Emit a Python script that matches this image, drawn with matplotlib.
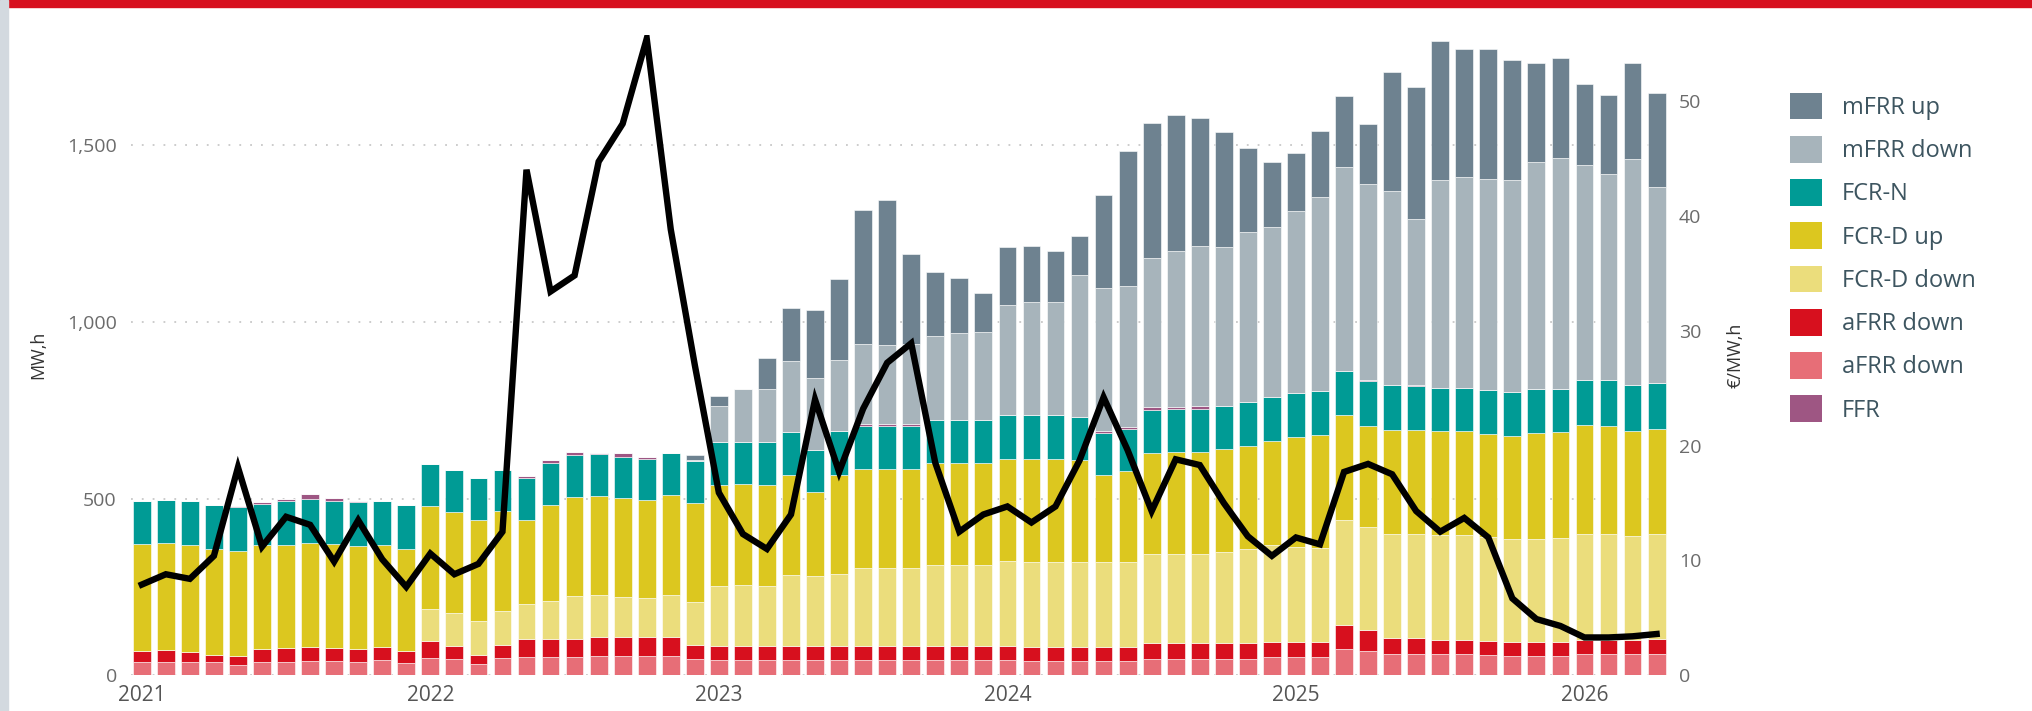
import matplotlib
matplotlib.use("Agg")
import matplotlib.pyplot as plt
from matplotlib.patches import Patch, Rectangle
from matplotlib.ticker import FuncFormatter
import numpy as np

# monthly volumes (MW,h), Jan 2021 .. Apr 2026, stacked bottom -> top
afrr_down_light = [39, 39, 39, 39, 28, 39, 39, 41, 41, 38, 44, 35,
                   49, 46, 31, 49, 53, 53, 53, 55, 55, 55, 55, 46,
                   44, 44, 44, 44, 44, 44, 44, 44, 44, 44, 44, 44,
                   44, 41, 41, 41, 41, 41, 47, 47, 47, 47, 47, 51,
                   51, 51, 75, 70, 60, 60, 60, 60, 58, 56, 56, 56,
                   60, 60, 60, 60]
afrr_down = [31, 33, 28, 18, 26, 35, 38, 40, 36, 37, 36, 34,
             48, 36, 27, 37, 51, 51, 51, 53, 53, 53, 53, 41,
             38, 38, 38, 38, 38, 38, 38, 38, 38, 38, 38, 38,
             38, 39, 39, 39, 39, 39, 44, 44, 44, 44, 44, 43,
             43, 43, 67, 57, 46, 46, 39, 39, 38, 37, 37, 37,
             39, 39, 39, 42]
fcrd_down = [0, 0, 0, 0, 0, 0, 0, 0, 0, 0, 0, 0,
             90, 94, 96, 95, 97, 105, 121, 119, 114, 110, 119, 121,
             172, 174, 172, 202, 200, 204, 221, 221, 221, 231, 231, 231,
             242, 242, 242, 242, 242, 242, 252, 252, 252, 258, 266, 274,
             268, 265, 298, 293, 294, 294, 299, 299, 295, 292, 292, 295,
             301, 301, 296, 298]
fcrd_up = [302, 301, 301, 300, 298, 294, 291, 292, 295, 291, 288, 288,
           293, 285, 285, 284, 238, 274, 280, 280, 280, 279, 282, 279,
           283, 284, 283, 282, 236, 282, 282, 282, 282, 288, 288, 288,
           289, 291, 291, 287, 244, 255, 286, 289, 289, 292, 293, 295,
           313, 322, 296, 284, 295, 295, 292, 292, 292, 292, 301, 299,
           308, 306, 297, 298]
fcrn = [122, 124, 124, 125, 123, 118, 125, 126, 122, 123, 124, 124,
        119, 119, 119, 117, 119, 119, 119, 119, 116, 116, 119, 119,
        122, 119, 122, 122, 119, 122, 119, 119, 119, 120, 120, 120,
        122, 122, 122, 121, 119, 120, 121, 122, 122, 121, 123, 123,
        124, 124, 126, 128, 125, 123, 124, 124, 125, 123, 124, 124,
        127, 129, 128, 128]
ffr = [0, 0, 0, 0, 4, 4, 6, 14, 7, 5, 0, 0,
       0, 0, 0, 0, 6, 6, 7, 2, 12, 4, 0, 0,
       0, 0, 0, 0, 0, 2, 6, 6, 8, 0, 0, 0,
       0, 0, 0, 0, 6, 5, 8, 4, 7, 0, 0, 0,
       0, 0, 0, 2, 2, 4, 0, 0, 0, 0, 0, 0,
       0, 0, 0, 0]
mfrr_down = [0, 0, 0, 0, 0, 0, 0, 0, 0, 0, 0, 0,
             0, 0, 0, 0, 0, 0, 0, 0, 0, 0, 0, 3,
             104, 152, 150, 202, 203, 201, 226, 225, 224, 239, 247, 250,
             311, 320, 320, 401, 405, 400, 422, 441, 454, 449, 481, 482,
             515, 548, 577, 556, 547, 468, 587, 594, 596, 602, 641, 652,
             607, 582, 640, 556]
mfrr_up = [0, 0, 0, 0, 0, 0, 0, 0, 0, 0, 0, 0,
           0, 0, 0, 0, 0, 0, 0, 0, 0, 0, 0, 15,
           27, 0, 88, 150, 192, 228, 381, 409, 257, 180, 156, 111,
           166, 158, 144, 111, 263, 380, 382, 387, 361, 326, 236, 183,
           163, 187, 199, 168, 337, 374, 394, 362, 367, 338, 282, 283,
           229, 223, 273, 264]

# average price (€/MW,h)
price = [7.9, 8.8, 8.4, 10.4, 18.1, 11.2, 13.8, 13.1, 9.9, 13.5, 10.1, 7.7,
         10.6, 8.8, 9.7, 12.5, 44.0, 33.4, 34.8, 44.7, 48.0, 55.4, 38.8, 27.0,
         15.9, 12.3, 11.0, 14.0, 24.0, 17.7, 23.2, 27.2, 28.9, 18.5, 12.5, 14.0,
         14.7, 13.3, 14.7, 18.7, 24.2, 19.6, 14.3, 18.8, 18.3, 15.0, 12.1, 10.4,
         12.0, 11.4, 17.7, 18.4, 17.5, 14.3, 12.5, 13.7, 12.0, 6.7, 4.9, 4.3,
         3.3, 3.3, 3.4, 3.6]

years = ["2021", "2022", "2023", "2024", "2025", "2026"]

stack = [
    ("aFRR down", afrr_down_light, "#e76e77"),
    ("aFRR down", afrr_down, "#d7101e"),
    ("FCR-D down", fcrd_down, "#ebdd7c"),
    ("FCR-D up", fcrd_up, "#dcc71f"),
    ("FCR-N", fcrn, "#009b95"),
    ("FFR", ffr, "#9e5683"),
    ("mFRR down", mfrr_down, "#a7b4bb"),
    ("mFRR up", mfrr_up, "#6e8290"),
]
legend_order = [7, 6, 4, 3, 2, 1, 0, 5]

plt.rcParams["font.family"] = ["Open Sans", "DejaVu Sans"]

fig = plt.figure(figsize=(20.33, 7.11), dpi=100)
ax = fig.add_axes([0.0643, 0.0501, 0.756, 0.9007])

x = np.arange(len(price))
bottom = np.zeros(len(price))
for name, vals, col in stack:
    ax.bar(x, vals, width=0.74, bottom=bottom, color=col,
           edgecolor="white", linewidth=0.4, zorder=2)
    bottom += np.array(vals)

ax.set_xlim(-0.46, len(price) - 1 + 0.46)
ax.set_ylim(0, 1811)
ax.set_yticks([0, 500, 1000, 1500])
ax.yaxis.set_major_formatter(FuncFormatter(lambda v, p: f"{v:,.0f}"))
ax.set_xticks(np.arange(0, len(price), 12))
ax.set_xticklabels(years)
ax.grid(axis="y", color="#c8c8c8", linestyle=(0, (1, 5)), linewidth=1.3)
ax.set_axisbelow(True)
ax.tick_params(axis="y", length=0, pad=10, labelsize=14, labelcolor="#6b6b6b")
ax.tick_params(axis="x", length=0, pad=7, labelsize=15, labelcolor="#555555")
for s in ax.spines.values():
    s.set_visible(False)
ax.set_ylabel("MW,h", fontsize=13, color="#333333")
ax.yaxis.set_label_coords(-0.054, 0.5)

ax2 = ax.twinx()
ax2.plot(x, price, color="black", linewidth=4.6, solid_joinstyle="miter", zorder=3)
ax2.set_ylim(0, 1811 / 32.5)
ax2.set_yticks([0, 10, 20, 30, 40, 50])
ax2.tick_params(axis="y", length=0, pad=8, labelsize=14, labelcolor="#6b6b6b")
for s in ax2.spines.values():
    s.set_visible(False)
ax2.set_ylabel("€/MW,h", fontsize=13, color="#333333")
ax2.yaxis.set_label_coords(1.038, 0.5)

handles = [Patch(facecolor=stack[i][2], label=stack[i][0]) for i in legend_order]
fig.legend(handles=handles, loc="upper left", bbox_to_anchor=(0.876, 0.883),
           frameon=False, fontsize=17, labelcolor="#3d5560",
           handlelength=1.36, handleheight=1.36, labelspacing=0.68,
           handletextpad=0.83, borderaxespad=0)

# frame decorations
fig.add_artist(Rectangle((0, 0.99), 1, 0.01, transform=fig.transFigure,
                         color="#d7101e", zorder=5))
fig.add_artist(Rectangle((0, 0), 0.004, 1, transform=fig.transFigure,
                         color="#d3d9df", zorder=5))

fig.savefig("out.png", dpi=100)
